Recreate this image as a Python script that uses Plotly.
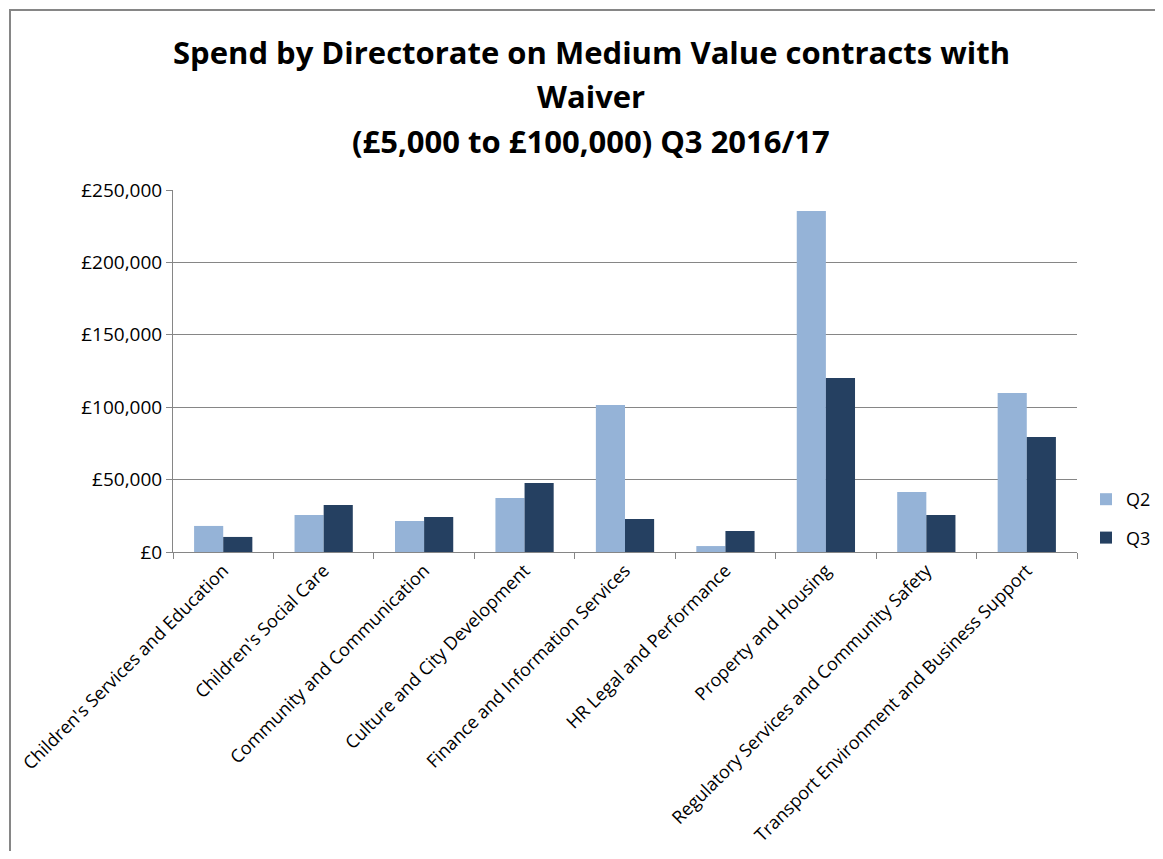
import plotly.graph_objects as go

categories = [
    "Children's Services and Education",
    "Children's Social Care",
    "Community and Communication",
    "Culture and City Development",
    "Finance and Information Services",
    "HR Legal and Performance",
    "Property and Housing",
    "Regulatory Services and Community Safety",
    "Transport Environment and Business Support",
]
q2_values = [18000, 25600, 21400, 37300, 101500, 4100, 235500, 41400, 109800]
q3_values = [10400, 32500, 24200, 47700, 22800, 14500, 120200, 25600, 79400]
y_tick_values = [0, 50000, 100000, 150000, 200000, 250000]
y_tick_labels = ["£0", "£50,000", "£100,000", "£150,000", "£200,000", "£250,000"]
title_lines = [
    "Spend by Directorate on Medium Value contracts with",
    "Waiver",
    "(£5,000 to £100,000) Q3 2016/17",
]

OFF = 8  # page body margin
W, H = 1163 - 2 * OFF, 859 - 2 * OFF
L, R, T, B = 173 - OFF, 1077 - OFF, 190 - OFF, 552 - OFF


def px_x(p):
    return (p - OFF - L) / (R - L)


def px_y(p):
    return (B - (p - OFF)) / (B - T)


FONT = "Open Sans"
GRID = "#868686"

fig = go.Figure()
fig.add_trace(go.Bar(name="Q2", x=categories, y=q2_values, marker_color="#95B3D7",
                     marker_line_width=0, legendgroup="a"))
fig.add_trace(go.Bar(name="Q3", x=categories, y=q3_values, marker_color="#254061",
                     marker_line_width=0, legendgroup="b"))

fig.update_layout(
    width=W, height=H,
    margin=dict(l=L, r=W - R, t=T, b=H - B, autoexpand=False),
    paper_bgcolor="white", plot_bgcolor="white",
    barmode="group", bargap=0.42, bargroupgap=0,
    font=dict(family=FONT, color="#000000", size=18),
    showlegend=True,
    legend=dict(x=px_x(1086), y=px_y(481), xanchor="left", yanchor="top",
                font=dict(size=18, family=FONT), tracegroupgap=12,
                traceorder="grouped", itemwidth=30, bgcolor="rgba(0,0,0,0)"),
    xaxis=dict(
        tickangle=-45, tickson="boundaries", ticks="outside", ticklen=6,
        tickcolor=GRID, showline=True, linecolor=GRID, linewidth=1,
        showgrid=False, tickfont=dict(size=18, family=FONT),
    ),
    yaxis=dict(
        range=[0, 250000], tickvals=y_tick_values, ticktext=y_tick_labels,
        ticks="outside", ticklen=6, tickcolor=GRID,
        showline=True, linecolor=GRID, linewidth=1,
        showgrid=True, gridcolor=GRID, gridwidth=1,
        tickfont=dict(size=19, family=FONT), zeroline=False,
    ),
)

title_centers = [52, 96, 141]
for line, cy in zip(title_lines, title_centers):
    fig.add_annotation(
        text="<b>" + line + "</b>", xref="paper", yref="paper",
        x=px_x(591), y=px_y(cy), xanchor="center", yanchor="middle",
        showarrow=False, font=dict(size=31, family=FONT, color="#000000"),
    )

# outer chart frame
fig.add_shape(type="rect", xref="paper", yref="paper",
              x0=px_x(10), x1=px_x(1190), y0=px_y(890), y1=px_y(10),
              line=dict(color="#868686", width=2), fillcolor="rgba(0,0,0,0)", layer="below")

fig.write_html("out.html")
